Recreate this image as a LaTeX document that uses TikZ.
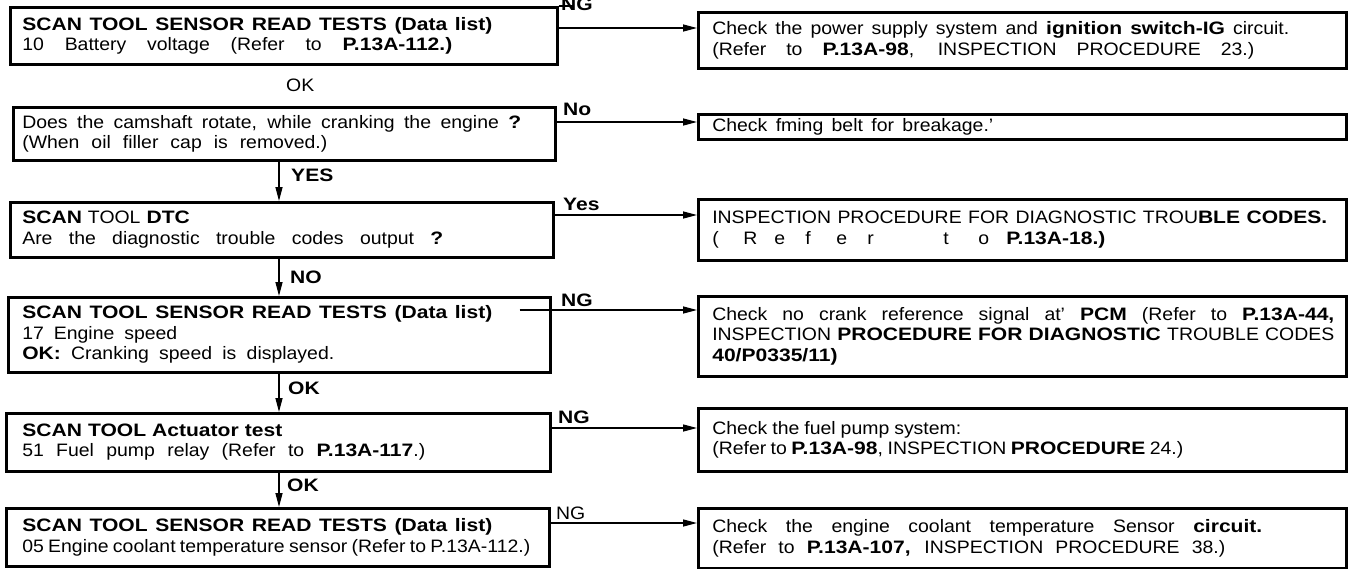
\documentclass[tikz,border=0pt]{standalone}
\usepackage{fontspec}
\setmainfont{Liberation Sans}[UprightFeatures={FakeStretch=1.08}, BoldFeatures={FakeStretch=1.17}]
\usetikzlibrary{arrows.meta,calc}
\tikzset{
  box/.style 2 args={draw, line width=2.6pt, anchor=north west, inner ysep=0pt,
    align=left, font=\fontsize{18}{20.5}\selectfont,
    minimum width=#1, minimum height=#2},
  lbox/.style n args={3}{box={#1}{#2}, inner xsep=#3, text width=#1-2*#3},
  rbox/.style 2 args={box={#1}{#2}, inner xsep=14pt, text width=#1-28pt},
  conn/.style={line width=1.4pt, -{Triangle[length=14pt,width=7pt]}},
  lab/.style={font=\fontsize{18}{20.5}\selectfont\bfseries, inner sep=0pt},
  labr/.style={font=\fontsize{18}{20.5}\selectfont, inner sep=0pt}
}
\newcommand{\lsp}[2][31pt]{\makebox[#1][l]{#2}}
\newcommand{\fitline}[2]{\makebox[#1][s]{\spaceskip=.3em plus 1fil minus .2em\relax #2}}
\begin{document}
\begin{tikzpicture}[x=1pt,y=-1pt]
\useasboundingbox (0,0) rectangle (1365,568);
% left boxes
\node[lbox={547pt}{57pt}{12pt}] (L1) at (9,6)
  {\fitline{470pt}{\textbf{SCAN TOOL SENSOR READ TESTS (Data list)}}\\
   \fitline{430pt}{10 Battery voltage (Refer to \textbf{P.13A-112.)}}};
\node[lbox={542pt}{53pt}{9pt}] (L2) at (12,106)
  {\fitline{499pt}{Does the camshaft rotate, while cranking the engine \textbf{?}}\\
   \fitline{305pt}{(When oil filler cap is removed.)}};
\node[lbox={543pt}{55pt}{12pt}] (L3) at (9,201)
  {\textbf{SCAN} TOOL \textbf{DTC}\\
   \fitline{421pt}{Are the diagnostic trouble codes output \textbf{?}}};
\node[lbox={542pt}{75pt}{14pt}] (L4) at (7,296)
  {\fitline{470pt}{\textbf{SCAN TOOL SENSOR READ TESTS (Data list)}}\\
   \fitline{155pt}{17 Engine speed}\\
   \fitline{312pt}{\textbf{OK:} Cranking speed is displayed.}};
\node[lbox={544pt}{58pt}{16pt}] (L5) at (5,412)
  {\fitline{260pt}{\textbf{SCAN TOOL Actuator test}}\\
   \fitline{403pt}{51 Fuel pump relay (Refer to \textbf{P.13A-117}.)}};
\node[lbox={543pt}{58pt}{16pt}] (L6) at (5,507)
  {\fitline{470pt}{\textbf{SCAN TOOL SENSOR READ TESTS (Data list)}}\\
   \fitline{508pt}{05 Engine coolant temperature sensor (Refer to P.13A-112.)}};
% right boxes
\node[rbox={648pt}{56pt}] (R1) at (697,11)
  {\fitline{577pt}{Check the power supply system and \textbf{ignition switch-IG} circuit.}\\
   \fitline{542pt}{(Refer to \textbf{P.13A-98}, INSPECTION PROCEDURE 23.)}};
\node[rbox={648pt}{25pt}] (R2) at (697,113)
  {\fitline{281pt}{Check fming belt for breakage.'}};
\node[rbox={648pt}{61pt}] (R3) at (697,198)
  {\fitline{615pt}{INSPECTION PROCEDURE FOR DIAGNOSTIC TROU\textbf{BLE CODES.}}\\
   \lsp{(}\lsp{R}\lsp{e}\lsp{f}\lsp{e}\lsp[76pt]{r}\lsp[35pt]{t}\lsp[28pt]{o}\textbf{P.13A-18.)}};
\node[rbox={648pt}{80pt}] (R4) at (697,295)
  {\fitline{622pt}{Check no crank reference signal at' \textbf{PCM} (Refer to \textbf{P.13A-44,}}\\
   \fitline{622pt}{INSPECTION \textbf{PROCEDURE FOR DIAGNOSTIC} TROUBLE CODES}\\
   \textbf{40/P0335/11)}};
\node[rbox={648pt}{63pt}] (R5) at (697,407)
  {\fitline{249pt}{Check the fuel pump system:}\\
   \fitline{471pt}{(Refer to \textbf{P.13A-98}, INSPECTION \textbf{PROCEDURE} 24.)}};
\node[rbox={648pt}{60pt}] (R6) at (697,507)
  {\fitline{550pt}{Check the engine coolant temperature Sensor \textbf{circuit.}}\\
   \fitline{513pt}{(Refer to \textbf{P.13A-107,} INSPECTION PROCEDURE 38.)}};
\draw[line width=2.6pt] (L1.north east) -- ++(15,0);
% horizontal connector levels
\coordinate (a1) at (0,28);
\coordinate (a2) at (0,122);
\coordinate (a3) at (0,215);
\coordinate (a4) at (0,310);
\coordinate (a5) at (0,428);
\coordinate (a6) at (0,523);
\draw[conn] (L1.east |- a1) -- (R1.west |- a1);
\draw[conn] (L2.east |- a2) -- (R2.west |- a2);
\draw[conn] (L3.east |- a3) -- (R3.west |- a3);
\draw[conn] ($(L4.east |- a4)+(-32,0)$) -- (R4.west |- a4);
\draw[conn] (L5.east |- a5) -- (R5.west |- a5);
\draw[conn] (L6.east |- a6) -- (R6.west |- a6);
\node[lab, anchor=base west] (n1) at (561,10) {NG};
\node[lab, anchor=base west] (n2) at (563,115) {No};
\node[lab, anchor=base west] (n3) at (563,210) {Yes};
\node[lab, anchor=base west] (n4) at (561,306) {NG};
\node[lab, anchor=base west] (n5) at (558,423) {NG};
\node[labr, anchor=base west] (n6) at (556,519) {NG};
% vertical connectors
\coordinate (cx) at (279,0);
\draw[conn] (L2.south -| cx) -- (L3.north -| cx);
\draw[conn] (L3.south -| cx) -- (L4.north -| cx);
\draw[conn] (L4.south -| cx) -- (L5.north -| cx);
\draw[conn] (L5.south -| cx) -- (L6.north -| cx);
\node[labr, anchor=west] (o0) at (286,85) {OK};
\node[lab, anchor=west] (o1) at (291,175) {YES};
\node[lab, anchor=west] (o2) at (290,277) {NO};
\node[lab, anchor=west] (o3) at (288,388) {OK};
\node[lab, anchor=west] (o4) at (287,485) {OK};
\end{tikzpicture}
\end{document}
